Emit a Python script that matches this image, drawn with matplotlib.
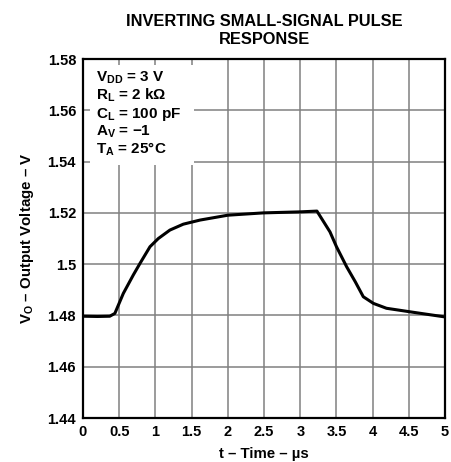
import matplotlib
matplotlib.use("Agg")
import matplotlib.pyplot as plt
from matplotlib.patches import Rectangle

plt.rcParams['font.family'] = ['Liberation Sans', 'DejaVu Sans']
plt.rcParams['font.weight'] = 'bold'
plt.rcParams['mathtext.fontset'] = 'custom'
plt.rcParams['mathtext.rm'] = 'Liberation Sans:bold'
plt.rcParams['mathtext.it'] = 'Liberation Sans:bold'
plt.rcParams['mathtext.bf'] = 'Liberation Sans:bold'
plt.rcParams['mathtext.default'] = 'rm'

# waveform
t_us = [0.0, 0.2, 0.37, 0.44, 0.557, 0.695, 0.787, 0.925, 1.04, 1.2, 1.385,
        1.616, 2.0, 2.49, 3.0, 3.23, 3.41, 3.5, 3.64, 3.76, 3.87, 4.01,
        4.19, 4.52, 4.98, 5.0]
vo = [1.4797, 1.4796, 1.4797, 1.4808, 1.4886, 1.4958, 1.5003, 1.5068, 1.5100,
      1.5133, 1.5156, 1.5172, 1.5191, 1.5200, 1.5204, 1.5207, 1.5126, 1.5068,
      1.4990, 1.4931, 1.4873, 1.4847, 1.4828, 1.4814, 1.4795, 1.4795]

x_ticks = [0, 0.5, 1, 1.5, 2, 2.5, 3, 3.5, 4, 4.5, 5]
x_labels = ['0', '0.5', '1', '1.5', '2', '2.5', '3', '3.5', '4', '4.5', '5']
y_ticks = [1.44, 1.46, 1.48, 1.5, 1.52, 1.54, 1.56, 1.58]
y_labels = ['1.44', '1.46', '1.48', '1.5', '1.52', '1.54', '1.56', '1.58']

conditions = [r'V$_{\mathrm{DD}}$ = 3 V',
              r'R$_{\mathrm{L}}$ = 2 k$\Omega$',
              r'C$_{\mathrm{L}}$ = 100 pF',
              r'A$_{\mathrm{V}}$ = $-$1',
              r'T$_{\mathrm{A}}$ = 25°C']

fig = plt.figure(figsize=(4.51, 4.62), dpi=100)
ax = fig.add_axes([0.184, 0.0952, 0.803, 0.777])

ax.plot(t_us, vo, color='black', lw=2.2, zorder=3)

ax.set_xlim(0, 5)
ax.set_ylim(1.44, 1.58)
ax.set_xticks(x_ticks)
ax.set_xticklabels(x_labels)
ax.set_yticks(y_ticks)
ax.set_yticklabels(y_labels)
ax.tick_params(length=0, labelsize=10.5, pad=5)
ax.grid(True, color='#808080', lw=1.1)
ax.set_axisbelow(True)
for s in ax.spines.values():
    s.set_linewidth(1.6)

# white box behind the test conditions
ax.add_patch(Rectangle((0.019, 0.705), 0.288, 0.278, transform=ax.transAxes,
                       facecolor='white', edgecolor='none', zorder=1))
for i, line in enumerate(conditions):
    ax.text(0.036, 0.936 - i * 0.0501, line, transform=ax.transAxes,
            fontsize=11, fontweight='bold', va='baseline', ha='left', zorder=4)

ax.set_xlabel('t – Time – µs', fontsize=10.8, fontweight='bold', labelpad=6)
ax.set_ylabel(r'V$_{\mathrm{O}}$ – Output Voltage – V', fontsize=10.8,
              fontweight='bold', labelpad=8)
ax.set_title('INVERTING SMALL-SIGNAL PULSE\nRESPONSE', fontsize=11.8,
             fontweight='bold', pad=11, linespacing=1.25)

fig.savefig('out.png', dpi=100)
